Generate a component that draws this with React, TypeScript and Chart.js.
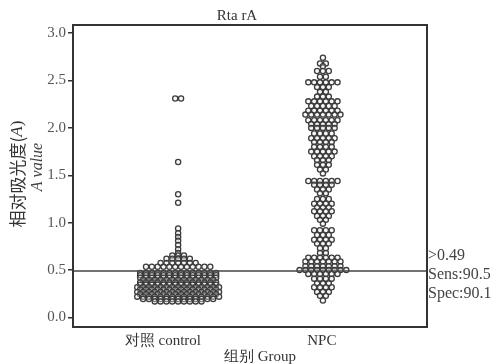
import React, { useEffect, useRef } from "react";
import { Chart, registerables } from "chart.js";

Chart.register(...registerables);

// ---- data ----
const categories = ["对照 control", "NPC"];
const controlLevels = [2.31, 1.64, 1.30, 1.21, 0.94, 0.89, 0.85, 0.81, 0.765, 0.72, 0.68, 0.655, 0.62, 0.575, 0.535, 0.47, 0.445, 0.42, 0.395, 0.37, 0.345, 0.32, 0.295, 0.27, 0.245, 0.22, 0.195, 0.17];
const controlCounts = [2, 1, 1, 1, 1, 1, 1, 1, 1, 1, 1, 3, 5, 7, 12, 14, 14, 14, 13, 14, 14, 15, 14, 15, 14, 15, 13, 9];
const npcLevels = [2.74, 2.68, 2.65, 2.60, 2.54, 2.48, 2.43, 2.38, 2.33, 2.28, 2.23, 2.18, 2.14, 2.08, 2.04, 2.00, 1.94, 1.89, 1.85, 1.80, 1.75, 1.70, 1.66, 1.61, 1.56, 1.52, 1.44, 1.40, 1.35, 1.31, 1.25, 1.20, 1.16, 1.12, 1.07, 1.03, 0.99, 0.92, 0.87, 0.82, 0.78, 0.73, 0.68, 0.63, 0.59, 0.54, 0.50, 0.46, 0.41, 0.36, 0.32, 0.27, 0.23, 0.18];
const npcCounts = [1, 2, 1, 3, 2, 6, 3, 2, 3, 6, 5, 6, 7, 6, 5, 5, 4, 5, 4, 4, 5, 4, 3, 3, 2, 1, 6, 4, 3, 2, 3, 4, 3, 4, 3, 2, 1, 4, 3, 4, 3, 2, 2, 6, 7, 7, 9, 6, 4, 3, 4, 3, 2, 1];
const cutoff = 0.49;
const cutoffLabels = [">0.49", "Sens:90.5", "Spec:90.1"];
const yTicks = [0, 0.5, 1.0, 1.5, 2.0, 2.5, 3.0];
const chartTitle = "Rta rA";
const yTitleCn = "相对吸光度(";
const yTitleVar = "A";
const yTitleEn = "A value";
const xTitle = "组别 Group";

// ---- layout (not data) ----
const groupCenters = [0.297, 0.706];
const labelCenters = [0.254, 0.703];
const dotSpacing = 0.0165;
const SERIF = "'Liberation Serif', 'DejaVu Serif', serif";

function swarm(levels: number[], counts: number[], center: number) {
  const pts: { x: number; y: number }[] = [];
  levels.forEach((v, r) => {
    const n = counts[r];
    for (let i = 0; i < n; i++) {
      pts.push({ x: center + (i - (n - 1) / 2) * dotSpacing, y: v });
    }
  });
  return pts;
}

const framePlugin = {
  id: "frame",
  afterDraw(chart: any) {
    const { ctx, chartArea } = chart;
    const { left, right, top, bottom } = chartArea;
    const yScale = chart.scales.y;
    ctx.save();
    ctx.strokeStyle = "#333";
    ctx.lineWidth = 2;
    ctx.strokeRect(left, top, right - left, bottom - top);
    ctx.fillStyle = "#333";
    ctx.textAlign = "center";
    ctx.textBaseline = "middle";
    ctx.font = `15px ${SERIF}`;
    ctx.fillText(chartTitle, 237, 16);
    ctx.fillText(xTitle, 260, 357);
    const cy = yScale.getPixelForValue(cutoff);
    ctx.textAlign = "left";
    ctx.font = `16px ${SERIF}`;
    ctx.fillStyle = "#444";
    ctx.fillText(cutoffLabels[0], right + 1, cy - 15);
    ctx.fillText(cutoffLabels[1], right + 1, cy + 4);
    ctx.fillText(cutoffLabels[2], right + 1, cy + 23);
    // y titles (rotated)
    ctx.save();
    ctx.translate(18, 174);
    ctx.rotate(-Math.PI / 2);
    ctx.fillStyle = "#333";
    const cnFont = `17px 'Noto Sans CJK SC', ${SERIF}`;
    ctx.font = cnFont;
    const w1 = ctx.measureText(yTitleCn).width;
    ctx.font = `italic 17px ${SERIF}`;
    const w2 = ctx.measureText(yTitleVar).width;
    ctx.font = `17px ${SERIF}`;
    const w3 = ctx.measureText(")").width;
    let x0 = -(w1 + w2 + w3) / 2;
    ctx.textAlign = "left";
    ctx.font = cnFont;
    ctx.fillText(yTitleCn, x0, 0);
    x0 += w1;
    ctx.font = `italic 17px ${SERIF}`;
    ctx.fillText(yTitleVar, x0, 0);
    x0 += w2;
    ctx.font = `17px ${SERIF}`;
    ctx.fillText(")", x0, 0);
    ctx.restore();
    ctx.save();
    ctx.translate(38, 167);
    ctx.rotate(-Math.PI / 2);
    ctx.fillStyle = "#444";
    ctx.textAlign = "center";
    ctx.textBaseline = "middle";
    ctx.font = `italic 16px ${SERIF}`;
    ctx.fillText(yTitleEn, 0, 0);
    ctx.restore();
    ctx.restore();
  },
};

export default function App() {
  const ref = useRef<HTMLCanvasElement | null>(null);
  useEffect(() => {
    if (!ref.current) return;
    const pointStyle = {
      type: "scatter" as const,
      pointStyle: "circle",
      pointRadius: 2.6,
      pointBorderWidth: 1.3,
      pointBorderColor: "#3c3c3c",
      pointBackgroundColor: "rgba(235,235,235,0.35)",
      order: 1,
    };
    const chart = new Chart(ref.current, {
      type: "scatter",
      data: {
        datasets: [
          {
            type: "line",
            label: "cutoff",
            data: [
              { x: 0, y: cutoff },
              { x: 1, y: cutoff },
            ],
            borderColor: "#444",
            borderWidth: 1.5,
            pointRadius: 0,
            order: 0,
          } as any,
          { ...pointStyle, label: categories[0], data: swarm(controlLevels, controlCounts, groupCenters[0]) } as any,
          { ...pointStyle, label: categories[1], data: swarm(npcLevels, npcCounts, groupCenters[1]) } as any,
        ],
      },
      options: {
        animation: false,
        responsive: false,
        devicePixelRatio: 1,
        layout: { padding: { left: 0, right: 64, top: 25, bottom: 0 } },
        plugins: { legend: { display: false }, tooltip: { enabled: false }, title: { display: false } },
        scales: {
          x: {
            type: "linear",
            min: 0,
            max: 1,
            grid: { display: false, drawTicks: false },
            border: { display: false },
            afterBuildTicks: (s: any) => {
              s.ticks = labelCenters.map((v) => ({ value: v }));
            },
            afterFit: (s: any) => {
              s.height = 37;
            },
            ticks: {
              autoSkip: false,
              maxRotation: 0,
              padding: 5,
              color: "#333",
              font: { family: SERIF, size: 15 },
              callback: (_v: any, i: number) => categories[i],
            },
          },
          y: {
            type: "linear",
            min: -0.1,
            max: 3.085,
            grid: { display: true, drawOnChartArea: false, drawTicks: true, tickLength: 5, color: "#333", lineWidth: 1.5 },
            border: { display: false },
            afterBuildTicks: (s: any) => {
              s.ticks = yTicks.map((v) => ({ value: v }));
            },
            afterFit: (s: any) => {
              s.width = 73;
            },
            ticks: {
              padding: 2,
              color: "#555",
              font: { family: SERIF, size: 15 },
              callback: (v: any) => Number(v).toFixed(1),
            },
          },
        },
      },
      plugins: [framePlugin],
    });
    return () => chart.destroy();
  }, []);
  return (
    <div style={{ position: "absolute", left: 0, top: 0, width: 491, height: 364, background: "#fff" }}>
      <canvas ref={ref} width={491} height={364} />
    </div>
  );
}
